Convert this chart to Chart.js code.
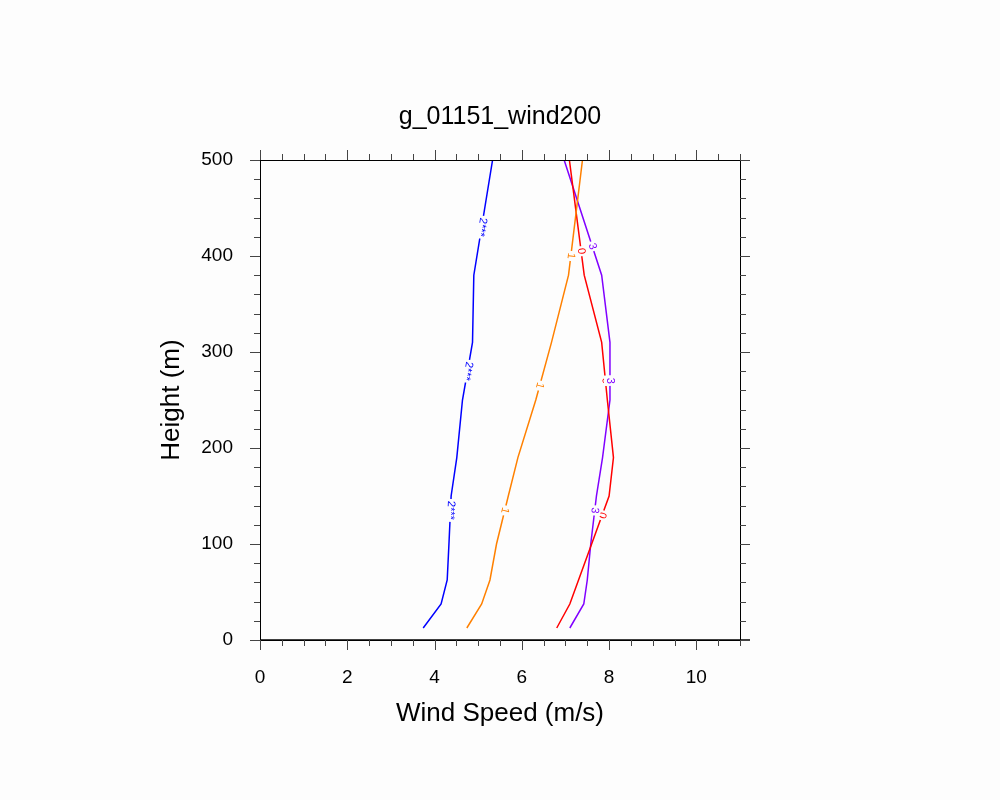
<!DOCTYPE html>
<html><head><meta charset="utf-8">
<script src="https://cdn.jsdelivr.net/npm/chart.js"></script>
<style>html,body{margin:0;padding:0;background:#fdfdfd}</style>
</head><body>
<div style="width:1000px;height:800px"><canvas id="c" width="1000" height="800"></canvas></div>
<script>
const heights = [12.5, 37.5, 62.5, 100, 150, 190, 250, 310, 380, 500];
const blue   = [3.74, 4.15, 4.29, 4.33, 4.38, 4.51, 4.64, 4.87, 4.90, 5.33];
const orange = [4.74, 5.08, 5.27, 5.42, 5.69, 5.91, 6.32, 6.68, 7.07, 7.39];
const red    = [6.80, 7.10, 7.30, 7.60, 8.00, 8.10, 7.96, 7.83, 7.43, 7.09];
const purple = [7.10, 7.42, 7.50, 7.58, 7.71, 7.85, 8.02, 8.02, 7.83, 6.97];
const xTicks = [0, 2, 4, 6, 8, 10];
const yTicks = [0, 100, 200, 300, 400, 500];
const lineLabels = ["2***", "1", "0", "3"];
const labelHeights = [[430, 280, 135], [400, 265, 135], [405, 270, 130], [410, 270, 135]];
const colors = ["#0000ff", "#ff8000", "#ff0000", "#8000ff"];
const series = [blue, orange, red, purple];

function pts(v){ return v.map((x,i)=>({x:x, y:heights[i]})); }
function interp(v, h){
  for(let i=0;i<heights.length-1;i++){
    if(h>=heights[i] && h<=heights[i+1]){
      const t=(h-heights[i])/(heights[i+1]-heights[i]);
      return {x:v[i]+t*(v[i+1]-v[i]), i:i};
    }
  }
  return {x:v[v.length-1], i:heights.length-2};
}
const deco = {
  id:'deco',
  afterDatasetsDraw(chart){
    const ctx=chart.ctx, xs=chart.scales.x, ys=chart.scales.y, a=chart.chartArea;
    ctx.save();
    series.forEach((v,k)=>{
      labelHeights[k].forEach(h=>{
        const r=interp(v,h);
        const px=xs.getPixelForValue(r.x), py=ys.getPixelForValue(h);
        const dx=xs.getPixelForValue(v[r.i+1])-xs.getPixelForValue(v[r.i]);
        const dy=ys.getPixelForValue(heights[r.i+1])-ys.getPixelForValue(heights[r.i]);
        let ang=Math.atan2(dy,dx);
        ctx.save(); ctx.translate(px,py); ctx.rotate(ang+Math.PI);
        ctx.font='11px "Liberation Sans", Arial';
        const w=ctx.measureText(lineLabels[k]).width+4;
        ctx.fillStyle='#fdfdfd'; ctx.fillRect(-w/2,-6,w,12);
        ctx.fillStyle=colors[k]; ctx.textAlign='center'; ctx.textBaseline='middle';
        ctx.fillText(lineLabels[k],0,0);
        ctx.restore();
      });
    });
    ctx.strokeStyle='#000'; ctx.lineWidth=1;
    ctx.strokeRect(a.left+0.5,a.top+0.5,a.right-a.left,a.bottom-a.top);
    ctx.lineWidth=1.5; ctx.beginPath(); ctx.moveTo(a.left,a.bottom); ctx.lineTo(a.right+10,a.bottom); ctx.stroke();
    ctx.lineWidth=1; ctx.strokeStyle='#444';
    for(let v=0; v<=11.001; v+=0.5){
      const p=Math.round(xs.getPixelForValue(v))+0.5;
      const major = Math.abs(v%2)<1e-6;
      const L = major?10:6;
      ctx.beginPath(); ctx.moveTo(p,a.bottom); ctx.lineTo(p,a.bottom+L);
      ctx.moveTo(p,a.top); ctx.lineTo(p,a.top-L); ctx.stroke();
    }
    for(let v=0; v<=500; v+=20){
      const p=Math.round(ys.getPixelForValue(v))+0.5;
      const major = v%100===0;
      const L = major?10:6;
      ctx.beginPath(); ctx.moveTo(a.left,p); ctx.lineTo(a.left-L,p);
      ctx.moveTo(a.right,p); ctx.lineTo(a.right+L,p); ctx.stroke();
    }
    ctx.fillStyle='#000'; ctx.textAlign='center'; ctx.textBaseline='middle';
    ctx.font='25px "Liberation Sans", Arial';
    ctx.fillText('g_01151_wind200', 500, 117);
    ctx.font='26px "Liberation Sans", Arial';
    ctx.fillText('Wind Speed (m/s)', 500, 714);
    ctx.save(); ctx.translate(172,400); ctx.rotate(-Math.PI/2);
    ctx.fillText('Height (m)',0,0); ctx.restore();
    ctx.restore();
  }
};
new Chart(document.getElementById('c'), {
  type:'line',
  data:{datasets: series.map((v,k)=>({data:pts(v), borderColor:colors[k], borderWidth:1.5, pointRadius:0, tension:0, fill:false}))},
  options:{
    responsive:false, animation:false, events:[],
    layout:{padding:{left:180, right:260, top:160, bottom:60}},
    plugins:{legend:{display:false}, tooltip:{enabled:false}},
    scales:{
      x:{type:'linear', min:0, max:11,
         afterBuildTicks(s){ s.ticks = xTicks.map(v=>({value:v})); },
         afterFit(s){ s.height=100; },
         grid:{display:false, drawTicks:false}, border:{display:false},
         ticks:{color:'#000', padding:26, font:{size:19, family:'"Liberation Sans", Arial'}}},
      y:{type:'linear', min:0, max:500,
         afterBuildTicks(s){ s.ticks = yTicks.map(v=>({value:v})); },
         afterFit(s){ s.width=80; },
         grid:{display:false, drawTicks:false}, border:{display:false},
         ticks:{color:'#000', padding:27, font:{size:19, family:'"Liberation Sans", Arial'}}}
    }
  },
  plugins:[deco]
});
</script>
</body></html>
